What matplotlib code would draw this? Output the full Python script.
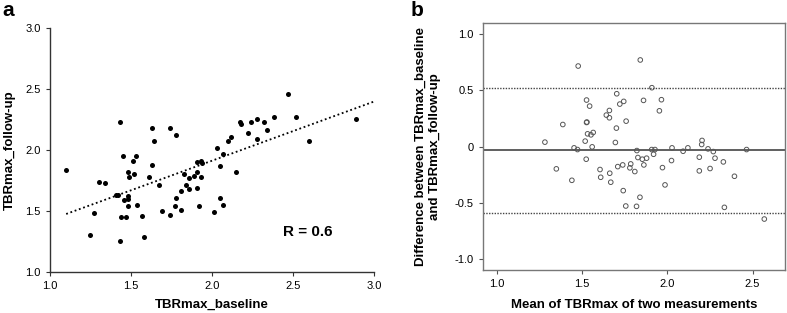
import numpy as np
import matplotlib.pyplot as plt

plt.rcParams["font.family"] = ["Liberation Sans", "DejaVu Sans"]
plt.rcParams["axes.unicode_minus"] = False

# ---------------------------------------------------------------------------
# Datos
# ---------------------------------------------------------------------------

# Panel a: TBRmax basal frente a seguimiento
tbr_basal = [
    1.43, 1.63, 1.74, 1.78, 1.64, 1.45, 1.53, 1.51, 1.63, 1.10,
    1.48, 1.49, 1.52, 1.61, 1.30, 1.34, 1.67, 1.41, 1.42, 1.48,
    1.48, 1.46, 1.48, 1.54, 1.27, 1.47, 1.44, 1.57, 1.69, 1.74,
    1.77, 1.78, 1.81, 1.81, 1.84, 1.86, 1.83, 1.86, 1.89, 1.91,
    1.93, 1.91, 1.93, 1.94, 1.91, 1.92, 1.25, 1.43, 1.58, 2.47,
    2.89, 2.60, 2.38, 2.52, 2.28, 2.32, 2.24, 2.17, 2.18, 2.22,
    2.34, 2.28, 2.12, 2.10, 2.03, 2.07, 2.05, 2.15, 2.05, 2.07,
    2.01,
]
tbr_seguimiento = [
    2.23, 2.18, 2.18, 2.12, 2.07, 1.95, 1.95, 1.91, 1.88, 1.84,
    1.82, 1.78, 1.80, 1.78, 1.74, 1.73, 1.71, 1.63, 1.63, 1.62,
    1.60, 1.59, 1.54, 1.55, 1.48, 1.45, 1.45, 1.46, 1.50, 1.47,
    1.54, 1.61, 1.66, 1.51, 1.71, 1.68, 1.80, 1.77, 1.79, 1.82,
    1.78, 1.90, 1.91, 1.89, 1.69, 1.54, 1.30, 1.25, 1.29, 2.46,
    2.25, 2.07, 2.27, 2.27, 2.25, 2.23, 2.23, 2.23, 2.21, 2.14,
    2.16, 2.09, 2.11, 2.07, 2.02, 1.97, 1.87, 1.82, 1.61, 1.55,
    1.49,
]
texto_r = "R = 0.6"

# Panel b: Bland-Altman (media de las dos medidas y diferencia)
ba_media = [
    1.478, 1.842, 1.704, 1.527, 1.545, 1.722, 1.745, 1.861, 1.661, 1.643,
    1.661, 1.759, 1.527, 1.529, 1.388, 1.702, 1.533, 1.553, 1.566, 1.283,
    1.519, 1.696, 1.560, 1.454, 1.474, 1.822, 1.525, 1.350, 1.441, 1.606,
    1.610, 1.663, 1.669, 1.710, 1.739, 1.786, 1.781, 1.810, 1.828, 1.854,
    1.879, 1.863, 1.742, 1.840, 1.757, 1.820,
    1.910, 1.966, 1.954, 2.204, 2.202, 1.909, 1.928, 1.920, 2.028, 2.093,
    2.121, 2.239, 2.270, 2.465, 1.972, 2.025, 1.987, 2.188, 2.280, 2.329,
    2.188, 2.251, 2.394, 2.335, 2.569,
]
ba_diferencia = [
    0.717, 0.771, 0.470, 0.414, 0.360, 0.378, 0.402, 0.411, 0.321, 0.280,
    0.256, 0.226, 0.214, 0.218, 0.196, 0.164, 0.113, 0.104, 0.125, 0.039,
    0.048, 0.036, -0.003, -0.012, -0.027, -0.036, -0.113, -0.199, -0.301, -0.205,
    -0.274, -0.238, -0.318, -0.179, -0.164, -0.155, -0.190, -0.223, -0.098, -0.113,
    -0.104, -0.164, -0.393, -0.452, -0.530, -0.533,
    0.524, 0.417, 0.318, 0.054, 0.018, -0.027, -0.027, -0.069, -0.012, -0.042,
    -0.012, -0.021, -0.045, -0.027, -0.188, -0.125, -0.342, -0.095, -0.104, -0.137,
    -0.217, -0.196, -0.265, -0.542, -0.646,
]
sesgo = -0.033
limite_sup = 0.52
limite_inf = -0.59

ticks_a = [1.0, 1.5, 2.0, 2.5, 3.0]
ticks_bx = [1.0, 1.5, 2.0, 2.5]
ticks_by = [1.0, 0.5, 0.0, -0.5, -1.0]
etiquetas_by = ["1.0", "0.5", "0", "-0.5", "-1.0"]


# ---------------------------------------------------------------------------
# Figura
# ---------------------------------------------------------------------------

fig = plt.figure(figsize=(7.87, 3.13), dpi=100)
ax_a = fig.add_axes([0.0635, 0.131, 0.4117, 0.7796])
ax_b = fig.add_axes([0.6137, 0.1374, 0.3837, 0.789])

# ---- Panel a ----
x = np.array(tbr_basal)
y = np.array(tbr_seguimiento)
ax_a.scatter(x, y, s=13, color="black", linewidths=0, zorder=3)

pendiente, ordenada = np.polyfit(x, y, 1)
xr = np.array([x.min(), 3.0])
ax_a.plot(xr, ordenada + pendiente * xr, color="black", ls=(0, (1, 1.5)),
          lw=1.3, zorder=2)

ax_a.set_xlim(1.0, 3.0)
ax_a.set_ylim(1.0, 3.0)
ax_a.set_xticks(ticks_a)
ax_a.set_yticks(ticks_a)
ax_a.set_xticklabels([f"{v:.1f}" for v in ticks_a])
ax_a.set_yticklabels([f"{v:.1f}" for v in ticks_a])
for lado in ("top", "right"):
    ax_a.spines[lado].set_visible(False)
for lado in ("left", "bottom"):
    ax_a.spines[lado].set_color("#333333")
    ax_a.spines[lado].set_linewidth(1.0)
ax_a.tick_params(length=3, width=0.8, colors="#333333", labelcolor="black",
                 labelsize=8)
ax_a.set_xlabel("TBRmax_baseline", fontsize=9.5, fontweight="bold", va="center")
ax_a.xaxis.set_label_coords(0.5, -0.135)
ax_a.set_ylabel("TBRmax_follow-up", fontsize=9.5, fontweight="bold", va="center")
ax_a.yaxis.set_label_coords(-0.124, 0.5)
ax_a.text(2.59, 1.33, texto_r, fontsize=11, fontweight="bold",
          ha="center", va="center")

# ---- Panel b ----
ax_b.scatter(ba_media, ba_diferencia, s=11, facecolors="none",
             edgecolors="#555555", linewidths=0.7, zorder=3)
ax_b.axhline(sesgo, color="#444444", lw=1.2, zorder=2)
ax_b.axhline(limite_sup, color="#444444", ls=(0, (1, 1)), lw=1.0, zorder=2)
ax_b.axhline(limite_inf, color="#444444", ls=(0, (1, 1)), lw=1.0, zorder=2)

ax_b.set_xlim(0.92, 2.69)
ax_b.set_ylim(-1.1, 1.1)
ax_b.set_xticks(ticks_bx)
ax_b.set_xticklabels([f"{v:.1f}" for v in ticks_bx])
ax_b.set_yticks(ticks_by)
ax_b.set_yticklabels(etiquetas_by)
for lado in ax_b.spines:
    ax_b.spines[lado].set_color("#777777")
    ax_b.spines[lado].set_linewidth(1.0)
ax_b.tick_params(length=3, width=0.8, colors="#555555", labelcolor="black",
                 labelsize=8)
ax_b.set_xlabel("Mean of TBRmax of two measurements", fontsize=9.5,
                fontweight="bold", va="center")
ax_b.xaxis.set_label_coords(0.5, -0.142)
ax_b.set_ylabel("Difference between TBRmax_baseline\nand TBRmax_follow-up",
                fontsize=9.5, fontweight="bold", va="center",
                linespacing=1.2)
ax_b.yaxis.set_label_coords(-0.182, 0.5)

# Letras de panel
fig.text(0.003, 0.965, "a", fontsize=15, fontweight="bold", va="center")
fig.text(0.522, 0.965, "b", fontsize=15, fontweight="bold", va="center")

fig.savefig("out.png", dpi=100)
